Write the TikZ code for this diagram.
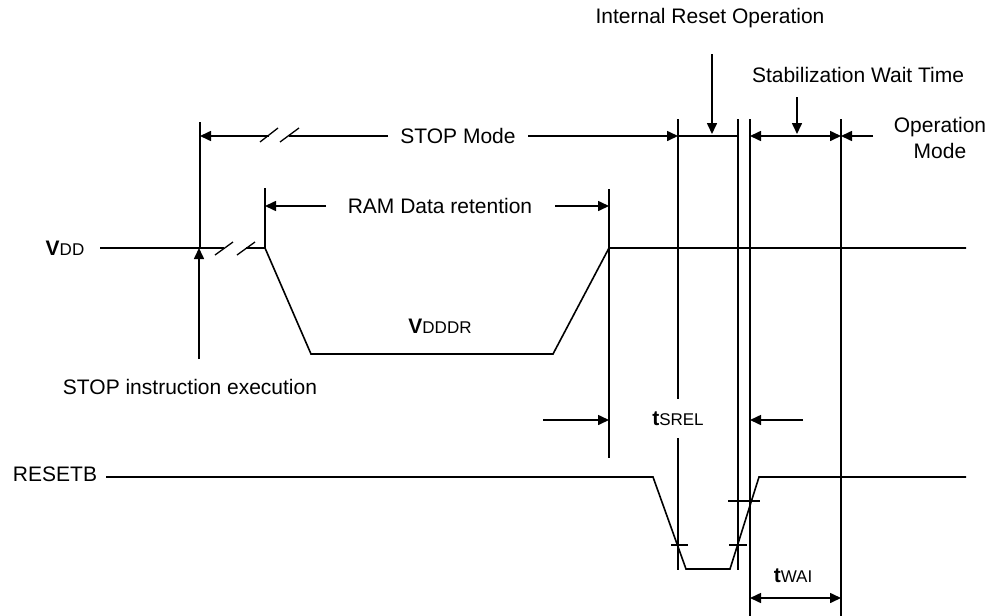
\documentclass[tikz,border=0pt]{standalone}
\usepackage{fontspec}
\setmainfont{Liberation Sans}
\usetikzlibrary{arrows.meta}

\newcommand{\sig}[2]{\textbf{#1}{\fontsize{17}{20}\selectfont #2}}

\begin{document}
\begin{tikzpicture}[x=1pt, y=-1pt, line width=1.6pt, font=\fontsize{21}{26}\selectfont,
 >={Triangle[length=11pt,width=10pt]},
 lbl/.style={inner sep=0pt, align=center},
 tick/.style={line width=1.3pt},
 brk/.style={line width=1.3pt}]
\useasboundingbox (0,0) rectangle (994,616);

% labels
\node[lbl] (irop) at (710,18) {Internal Reset Operation};
\node[lbl] (swt) at (858,75) {Stabilization Wait Time};
\node[lbl] (opm) at (940,138) {Operation\\Mode};
\node[lbl] (stopm) at (458,136) {STOP Mode};
\node[lbl] (ram) at (440,206) {RAM Data retention};
\node[lbl] (vdd) at (65,248) {\sig{V}{DD}};
\node[lbl] (vdddr) at (440,326) {\sig{V}{DDDR}};
\node[lbl] (stopi) at (190,387) {STOP instruction execution};
\node[lbl] (tsrel) at (678,419) {\sig{t}{SREL}};
\node[lbl] (rstb) at (55,474) {RESETB};
\node[lbl] (twai) at (793,576) {\sig{t}{WAI}};

% timing points
\coordinate (v0) at (100,248);
\coordinate (v1) at (265,248);
\coordinate (v2) at (311,354);
\coordinate (v3) at (553,354);
\coordinate (v4) at (609,248);
\coordinate (v5) at (966,248);
\coordinate (r0) at (106,477);
\coordinate (r1) at (653,477);
\coordinate (r2) at (686,569);
\coordinate (r3) at (730,569);
\coordinate (r4) at (759,477);
\coordinate (r5) at (966,477);

% guide lines
\draw (200,122) -- (200,248);
\draw (265,188) -- (265,248);
\draw (609,189) -- (609,458);
\draw (678,119) -- (678,399);
\draw (678,438) -- (678,570);
\draw (738,119) -- (738,570);
\draw (750,119) -- (750,616);
\draw (841,119) -- (841,616);

% VDD
\draw (v0) -- (224,248);
\draw (246,248) -- (v1) -- (v2) -- (v3) -- (v4) -- (v5);
\draw[brk] (215,255) -- (233,242);
\draw[brk] (237,255) -- (255,242);

% RESETB
\draw (r0) -- (r1) -- (r2) -- (r3) -- (r4) -- (r5);
\draw[tick] (671,545) -- (688,545);
\draw[tick] (729,545) -- (747,545);
\draw[tick] (728,501) -- (760,501);

% STOP Mode
\draw[->] (269,136) -- (200,136);
\draw (388,136) -- (289,136);
\draw[brk] (260,142) -- (278,128);
\draw[brk] (280,142) -- (299,128);
\draw[->] (528,136) -- (678,136);
\draw (678,136) -- (738,136);
\draw[->] (712,54) -- (712,134);
\draw[<->] (750,136) -- (841,136);
\draw[->] (797,97) -- (797,134);
\draw[->] (873,136) -- (841,136);

% RAM Data retention
\draw[->] (326,206) -- (265,206);
\draw[->] (555,206) -- (609,206);

% STOP instruction
\draw[->] (199,359) -- (199,248);

% tSREL / tWAI
\draw[->] (543,420) -- (609,420);
\draw[->] (803,420) -- (750,420);
\draw[<->] (750,598) -- (841,598);
\end{tikzpicture}
\end{document}
